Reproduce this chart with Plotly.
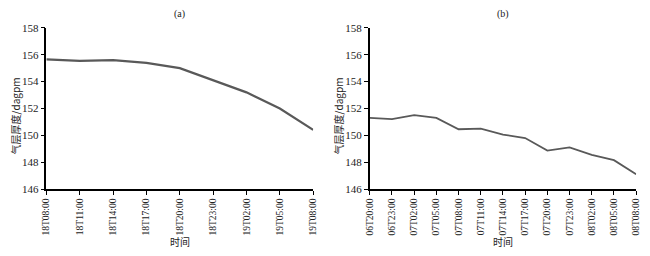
import plotly.graph_objects as go

cats_a = ["18T08:00", "18T11:00", "18T14:00", "18T17:00", "18T20:00",
          "18T23:00", "19T02:00", "19T05:00", "19T08:00"]
vals_a = [155.66, 155.55, 155.6, 155.4, 155.0, 154.1, 153.2, 152.0, 150.4]

cats_b = ["06T20:00", "06T23:00", "07T02:00", "07T05:00", "07T08:00", "07T11:00",
          "07T14:00", "07T17:00", "07T20:00", "07T23:00", "08T02:00", "08T05:00", "08T08:00"]
vals_b = [151.3, 151.2, 151.5, 151.3, 150.45, 150.5, 150.05, 149.8, 148.86, 149.1,
          148.55, 148.15, 147.1]

y_ticks = [146, 148, 150, 152, 154, 156, 158]
panel_titles = ["(a)", "(b)"]
y_title = "气层厚度/dagpm"
x_title = "时间"

W, H = 650, 256
serif = "Liberation Serif, Times New Roman, serif"
cjk = "Noto Sans CJK SC"
line_col = "#595959"

fig = go.Figure()
fig.add_trace(go.Scatter(x=cats_a, y=vals_a, mode="lines", xaxis="x", yaxis="y",
                         line=dict(color=line_col, width=2.2), showlegend=False))
fig.add_trace(go.Scatter(x=cats_b, y=vals_b, mode="lines", xaxis="x2", yaxis="y2",
                         line=dict(color=line_col, width=1.8), showlegend=False))

ybot = (H - 192) / H
ytop = (H - 23) / H
dom_a = [42 / W, 313 / W]
dom_b = [370.5 / W, 641 / W]

xcommon = dict(type="category", showline=True, linecolor="black", linewidth=1.5,
               ticks="outside", ticklen=4, tickcolor="black", tickangle=-90,
               showgrid=False, zeroline=False,
               tickfont=dict(family=serif, size=9.5, color="#222"))
ycommon = dict(range=[146, 158], tickvals=y_ticks, showline=True, linecolor="black",
               linewidth=1.5, ticks="outside", ticklen=4, tickcolor="black",
               showgrid=False, zeroline=False,
               tickfont=dict(family=serif, size=11, color="#222"))

fig.update_layout(
    width=W, height=H, margin=dict(l=0, r=0, t=0, b=0),
    paper_bgcolor="white", plot_bgcolor="white",
    xaxis=dict(domain=dom_a, anchor="y", range=[0, len(cats_a) - 1], **xcommon),
    yaxis=dict(domain=[ybot, ytop], anchor="x", **ycommon),
    xaxis2=dict(domain=dom_b, anchor="y2", range=[0, len(cats_b) - 1], **xcommon),
    yaxis2=dict(domain=[ybot, ytop], anchor="x2", **ycommon),
)

for dom, t, yx in [(dom_a, panel_titles[0], 11 / W), (dom_b, panel_titles[1], 339 / W)]:
    cx = (dom[0] + dom[1]) / 2
    fig.add_annotation(x=cx, y=1 - 8 / H, xref="paper", yref="paper", text=t,
                       showarrow=False, font=dict(family=serif, size=10, color="#222"),
                       xanchor="center", yanchor="middle")
    fig.add_annotation(x=cx, y=1 - 247 / H, xref="paper", yref="paper", text=x_title,
                       showarrow=False, font=dict(family=cjk, size=10, color="#222"),
                       xanchor="center", yanchor="middle")
    fig.add_annotation(x=yx, y=1 - 115 / H, xref="paper", yref="paper", text=y_title,
                       showarrow=False, textangle=-90,
                       font=dict(family=cjk, size=10, color="#222"),
                       xanchor="center", yanchor="middle")

fig.write_html("out.html")
